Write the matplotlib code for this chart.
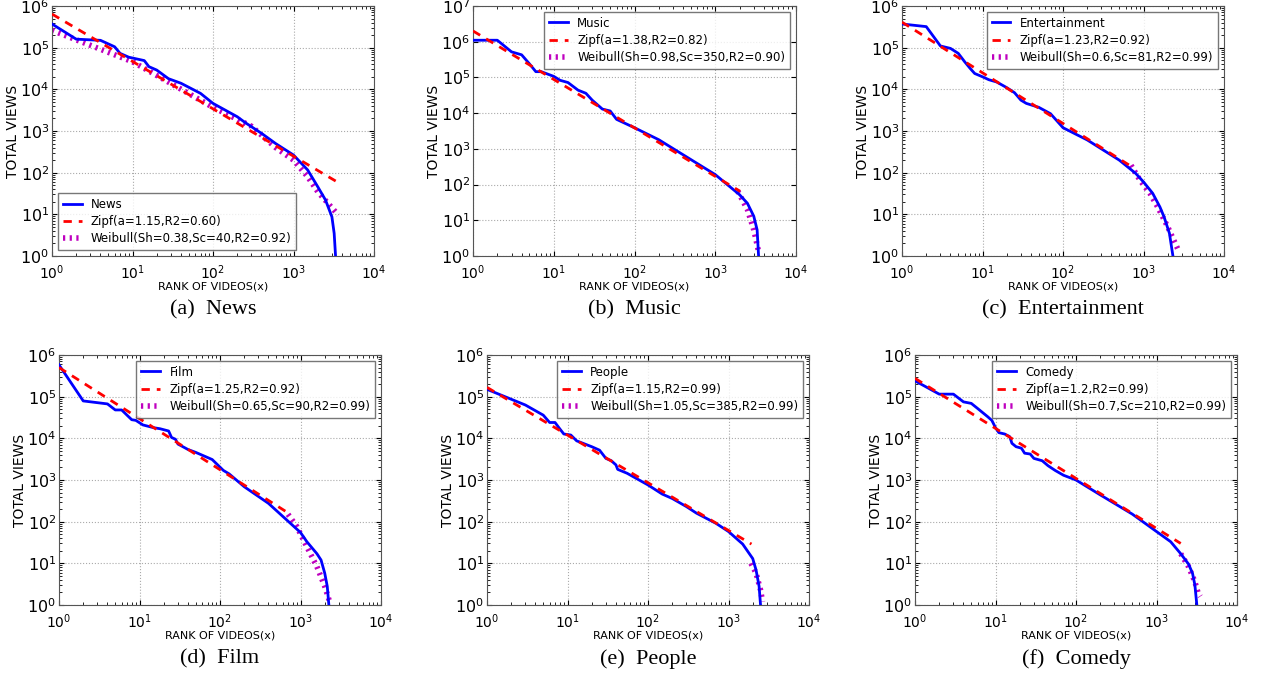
import numpy as np
import matplotlib
matplotlib.use("Agg")
import matplotlib.pyplot as plt
from matplotlib.ticker import LogLocator

# values (rank, total views)
news_rank = [1, 2, 4, 6, 7, 9, 14, 16, 20, 28, 40, 70, 100, 200, 250, 400, 600, 1000, 1500, 2000, 2500, 3000, 3200, 3330]
news_views = [3.7e5, 1.6e5, 1.5e5, 1.05e5, 7.3e4, 5.9e4, 4.9e4, 3.5e4, 2.9e4, 1.8e4, 1.4e4, 8e3, 4.6e3,
              2.2e3, 1.6e3, 880, 500, 265, 116, 46, 22, 8.7, 3.5, 1]
news_zipf_x = [1, 3540]
news_zipf_y = [6.4e5, 59]
news_weib_x = [1, 10, 100, 300, 600, 1000, 1500, 2000, 3600]
news_weib_y = [2.6e5, 4.6e4, 3.7e3, 1.3e3, 400, 200, 80, 35, 9.6]

music_rank = [1, 2, 3, 4, 5, 6, 7, 10, 12, 15, 20, 25, 30, 40, 50, 60, 100, 200, 500, 1000, 1500, 2000,
              2500, 3000, 3300, 3440]
music_views = [1.1e6, 1.1e6, 5.2e5, 4.3e5, 2.4e5, 1.45e5, 1.45e5, 1.07e5, 8.3e4, 7.2e4, 4.4e4, 3.6e4, 2.3e4,
               1.3e4, 1.15e4, 6.7e3, 3.9e3, 1.8e3, 500, 190, 89, 52, 30, 13, 5.4, 1]
music_zipf_x = [1, 2030]
music_zipf_y = [2.0e6, 65]
music_weib_x = [1900, 2500, 3000, 3400]
music_weib_y = [65, 20, 5.4, 1.5]

ent_rank = [1, 2, 3, 4, 5, 6, 7, 8, 10, 12, 15, 20, 25, 30, 35, 50, 70, 100, 200, 500, 800, 1000, 1300,
            1600, 1800, 2100, 2320]
ent_views = [3.7e5, 3.2e5, 1.1e5, 9.6e4, 7.3e4, 4.6e4, 3.2e4, 2.4e4, 2e4, 1.7e4, 1.5e4, 1.1e4, 8.3e3,
             5.5e3, 4.6e3, 3.7e3, 2.6e3, 1.2e3, 610, 200, 96, 60, 32, 15, 8.7, 3.5, 1]
ent_zipf_x = [1, 710]
ent_zipf_y = [4.1e5, 140]
ent_weib_x = [700, 900, 1200, 1500, 2000, 2700]
ent_weib_y = [150, 67, 32, 15, 5, 1.4]

film_rank = [1, 2, 4, 5, 6, 8, 9, 11, 15, 18, 23, 25, 28, 30, 40, 50, 80, 110, 130, 200, 400, 1000,
             1200, 1600, 1800, 2000, 2150, 2250]
film_views = [5.8e5, 7.9e4, 6.7e4, 4.8e4, 4.8e4, 2.8e4, 2.7e4, 2.1e4, 1.8e4, 1.7e4, 1.5e4, 1.05e4, 9.5e3,
              7.3e3, 5.4e3, 4.6e3, 3.1e3, 1.7e3, 1.4e3, 690, 275, 55, 33, 17, 12, 5.8, 2.8, 1]
film_zipf_x = [1, 740]
film_zipf_y = [5.0e5, 152]
film_weib_x = [700, 900, 1200, 1600, 2000, 2300]
film_weib_y = [150, 76, 25, 8.3, 2.8, 1.2]

people_rank = [1, 3, 5, 6, 7, 8, 9, 11, 13, 20, 25, 30, 35, 40, 42, 55, 100, 150, 200, 300, 400, 700,
               1000, 1500, 2000, 2200, 2400, 2500]
people_views = [1.5e5, 6.3e4, 3.6e4, 2.4e4, 2.4e4, 1.7e4, 1.27e4, 1.2e4, 8.7e3, 6.3e3, 5.2e3, 3.3e3, 2.9e3,
                2.3e3, 1.8e3, 1.45e3, 760, 460, 360, 230, 160, 91, 58, 29, 13, 6.9, 2.8, 1]
people_zipf_x = [1, 1930]
people_zipf_y = [1.67e5, 29]
people_weib_x = [1900, 2200, 2500, 2650]
people_weib_y = [10, 5.8, 2.3, 1.2]

comedy_rank = [1, 2, 3, 4, 5, 6, 8, 9, 10, 11, 13, 15, 16, 18, 21, 23, 27, 30, 38, 45, 55, 70, 100, 200,
               300, 500, 1000, 1500, 2000, 2500, 2800, 3000, 3170]
comedy_views = [2.4e5, 1.15e5, 1.15e5, 7.5e4, 6.9e4, 5.2e4, 3.3e4, 2.7e4, 1.8e4, 1.37e4, 1.27e4, 1.1e4,
                7.6e3, 6.3e3, 5.8e3, 4.4e3, 4.2e3, 3.3e3, 2.9e3, 2.2e3, 1.7e3, 1.3e3, 1.0e3, 440, 275, 152,
                58, 33, 17, 9.6, 5.8, 3, 1]
comedy_zipf_x = [1, 2000]
comedy_zipf_y = [2.75e5, 30]
comedy_weib_x = [2000, 2500, 3000, 3300, 3500]
comedy_weib_y = [17, 8.3, 3.6, 1.9, 1.6]

names = ["News", "Music", "Entertainment", "Film", "People", "Comedy"]
captions = ["(a)", "(b)", "(c)", "(d)", "(e)", "(f)"]
zipf_labels = ["Zipf(a=1.15,R2=0.60)", "Zipf(a=1.38,R2=0.82)", "Zipf(a=1.23,R2=0.92)",
               "Zipf(a=1.25,R2=0.92)", "Zipf(a=1.15,R2=0.99)", "Zipf(a=1.2,R2=0.99)"]
weib_labels = ["Weibull(Sh=0.38,Sc=40,R2=0.92)", "Weibull(Sh=0.98,Sc=350,R2=0.90)",
               "Weibull(Sh=0.6,Sc=81,R2=0.99)", "Weibull(Sh=0.65,Sc=90,R2=0.99)",
               "Weibull(Sh=1.05,Sc=385,R2=0.99)", "Weibull(Sh=0.7,Sc=210,R2=0.99)"]

series = [
    (news_rank, news_views, news_zipf_x, news_zipf_y, news_weib_x, news_weib_y),
    (music_rank, music_views, music_zipf_x, music_zipf_y, music_weib_x, music_weib_y),
    (ent_rank, ent_views, ent_zipf_x, ent_zipf_y, ent_weib_x, ent_weib_y),
    (film_rank, film_views, film_zipf_x, film_zipf_y, film_weib_x, film_weib_y),
    (people_rank, people_views, people_zipf_x, people_zipf_y, people_weib_x, people_weib_y),
    (comedy_rank, comedy_views, comedy_zipf_x, comedy_zipf_y, comedy_weib_x, comedy_weib_y),
]

W, H = 1270, 680
# axes boxes in pixels: left, right, top, bottom
boxes = [(52, 374, 6, 256), (473, 796, 6, 256), (902, 1224, 6, 256),
         (59, 381, 355, 605), (487, 809, 355, 605), (915, 1237, 355, 605)]
ymax = [1e6, 1e7, 1e6, 1e6, 1e6, 1e6]
legend_loc = ["lower left", "upper right", "upper right", "upper right", "upper right", "upper right"]

fig = plt.figure(figsize=(W / 100, H / 100), dpi=100)

for i in range(6):
    l, r, t, b = boxes[i]
    ax = fig.add_axes([l / W, 1 - b / H, (r - l) / W, (b - t) / H])
    rank, views, zx, zy, wx, wy = series[i]
    ax.plot(rank, views, color="#0000ff", lw=2, label=names[i], zorder=3)
    ax.plot(zx, zy, color="red", lw=2, ls=(0, (3, 2.5)), label=zipf_labels[i], zorder=4)
    ax.plot(wx, wy, color="m", lw=4, ls=(0, (0.4, 0.8)), label=weib_labels[i], zorder=2)
    ax.set_xscale("log")
    ax.set_yscale("log")
    ax.set_xlim(1, 1e4)
    ax.set_ylim(1, ymax[i])
    ax.yaxis.set_major_locator(LogLocator(base=10, numticks=20))
    ax.xaxis.set_major_locator(LogLocator(base=10, numticks=20))
    ax.grid(True, which="major", ls=":", color="#aaaaaa", lw=0.8)
    ax.tick_params(which="both", direction="in", top=True, right=True)
    ax.tick_params(axis="y", labelsize=11.5, pad=2)
    ax.tick_params(axis="x", labelsize=10, pad=5)
    for sp in ax.spines.values():
        sp.set_color("#555555")
    ax.set_xlabel("RANK OF VIDEOS(x)", fontsize=8, labelpad=0)
    ax.set_ylabel("TOTAL VIEWS", fontsize=10, labelpad=0)
    leg = ax.legend(loc=legend_loc[i], fontsize=8.5, fancybox=False, handlelength=1.6,
                    borderaxespad=0.5, labelspacing=0.35)
    leg.get_frame().set_edgecolor("#555555")
    leg.get_frame().set_linewidth(1.0)
    cx = (l + r) / 2 / W
    cy = 1 - (b + 54) / H
    fig.text(cx, cy, captions[i] + "  " + names[i], ha="center", va="center",
             fontsize=16, family="Liberation Serif")

fig.savefig("out.png", dpi=100)
